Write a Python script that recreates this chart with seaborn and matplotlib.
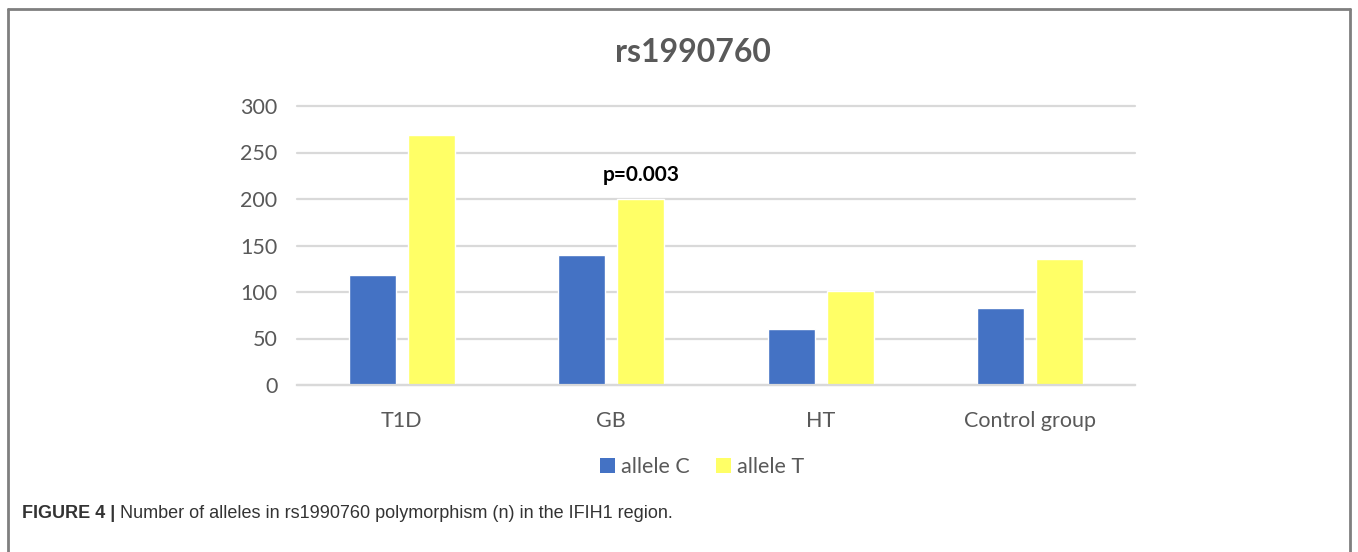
import matplotlib
matplotlib.use("Agg")
import matplotlib.pyplot as plt
from matplotlib.lines import Line2D
from matplotlib.patches import Patch
import seaborn as sns
import pandas as pd

categories = ["T1D", "GB", "HT", "Control group"]
allele_c = [118, 140, 60, 83]
allele_t = [269, 200, 101, 135]
series_names = ["allele C", "allele T"]
y_ticks = [0, 50, 100, 150, 200, 250, 300]
title = "rs1990760"
annotation = "p=0.003"
caption_bold = "FIGURE 4 |"
caption_text = " Number of alleles in rs1990760 polymorphism (n) in the IFIH1 region."

df = pd.DataFrame({
    "group": categories * 2,
    "allele": [series_names[0]] * 4 + [series_names[1]] * 4,
    "n": allele_c + allele_t,
})

sns.set_theme(style="white")
plt.rcParams["font.family"] = ["Lato", "DejaVu Sans"]

fig = plt.figure(figsize=(13.58, 5.52), dpi=100)
ax = fig.add_axes([297 / 1358, 1 - 385 / 552, 838 / 1358, 279 / 552])

colors = {"allele C": "#4472C4", "allele T": "#FFFF66"}
sns.barplot(data=df, x="group", y="n", hue="allele", palette=colors,
            order=categories, hue_order=series_names, width=0.564, gap=0.206,
            ax=ax, legend=False, saturation=1)

ax.set_xlim(-0.5, 3.5)
ax.set_ylim(0, 300)
ax.set_yticks(y_ticks)
ax.set_xlabel("")
ax.set_ylabel("")
ax.set_axisbelow(True)
ax.yaxis.grid(True, color="#D9D9D9", linewidth=1.6)
for gl in ax.get_ygridlines():
    gl.set_clip_on(False)
for s in ["left", "right", "top"]:
    ax.spines[s].set_visible(False)
ax.spines["bottom"].set_color("#D9D9D9")
ax.spines["bottom"].set_linewidth(1.6)
ax.tick_params(axis="both", length=0, labelsize=15.5, labelcolor="#595959")
ax.tick_params(axis="y", pad=14)
ax.tick_params(axis="x", pad=19)

# annotation above GB allele T bar
ax.text(1 + 0.141, 226, annotation, ha="center", va="center",
        fontsize=15, fontweight="bold", color="black")

fig.text(693 / 1358, 1 - 52 / 552, title, ha="center", va="center",
         fontsize=23, fontweight="bold", color="#595959")

handles = [Patch(facecolor=colors[n], edgecolor="none", label=n) for n in series_names]
fig.legend(handles=handles, loc="center", bbox_to_anchor=(702 / 1358, 1 - 467 / 552),
           ncol=2, frameon=False, fontsize=15.5, handlelength=0.7, handleheight=0.7,
           handletextpad=0.3, columnspacing=1.2, labelcolor="#595959")

# frame
fc = "#7F7F7F"
fig.add_artist(Line2D([8 / 1358, 8 / 1358], [0, 1 - 8.5 / 552], transform=fig.transFigure, color=fc, lw=2))
fig.add_artist(Line2D([1350 / 1358, 1350 / 1358], [0, 1 - 8.5 / 552], transform=fig.transFigure, color=fc, lw=2))
fig.add_artist(Line2D([8 / 1358, 1350 / 1358], [1 - 8.5 / 552, 1 - 8.5 / 552], transform=fig.transFigure, color=fc, lw=2))

t1 = fig.text(22 / 1358, 1 - 513 / 552, caption_bold, ha="left", va="center",
              fontsize=13, fontweight="bold", color="#333333",
              family=["Liberation Sans", "DejaVu Sans"])
fig.canvas.draw()
bb = t1.get_window_extent()
fig.text(bb.x1 / 1358, 1 - 513 / 552, caption_text, ha="left", va="center",
         fontsize=13, color="#333333",
         family=["Liberation Sans", "DejaVu Sans"])

fig.savefig("out.png", dpi=100)
